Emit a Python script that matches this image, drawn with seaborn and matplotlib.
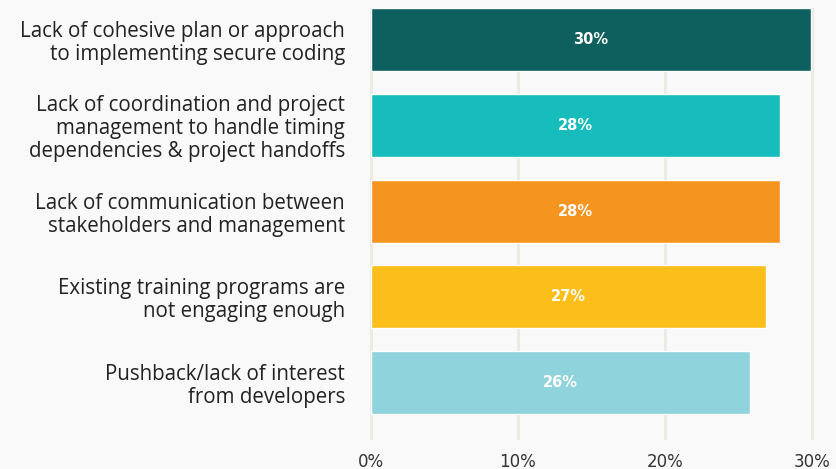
import pandas as pd
import numpy as np
import seaborn as sns
import matplotlib.pyplot as plt

categories = [
    "Lack of cohesive plan or approach\nto implementing secure coding",
    "Lack of coordination and project\nmanagement to handle timing\ndependencies & project handoffs",
    "Lack of communication between\nstakeholders and management",
    "Existing training programs are\nnot engaging enough",
    "Pushback/lack of interest\nfrom developers",
]
values = [29.9, 27.8, 27.8, 26.9, 25.8]
labels = ["30%", "28%", "28%", "27%", "26%"]
colors = ["#0e605f", "#17bdbc", "#f69420", "#fcbe1a", "#8fd4dc"]
xticks = [0, 10, 20, 30]

df = pd.DataFrame({"reason": categories, "share": values})

sns.set_theme(style="white")
plt.rcParams["font.family"] = ["Open Sans", "DejaVu Sans"]

fig = plt.figure(figsize=(8.37, 4.69), dpi=100, facecolor="#f9f9f9")
ax = fig.add_axes([370 / 837, 29 / 469, 445 / 837, 432 / 469])
ax.set_facecolor("#f9f9f9")

sns.barplot(data=df, x="share", y="reason", hue="reason", palette=colors,
            legend=False, width=0.735, saturation=1, ax=ax, zorder=3)

for x in xticks:
    ax.axvline(x, color="#ebebe3", lw=2.2, zorder=1)

for i, (v, lab) in enumerate(zip(values, labels)):
    ax.text(v / 2, i, lab, color="white", ha="center", va="center",
            fontsize=10.5, fontweight="bold", family="DejaVu Sans", zorder=4)

ax.set_xlim(-0.05, 30.2)
ax.set_ylim(4.67, -0.37)
ax.set_xticks(xticks)
ax.set_xticklabels([f"{t}%" for t in xticks], fontsize=12, color="#333333",
                   family="DejaVu Sans")
ax.tick_params(axis="x", length=0, pad=9)
ax.tick_params(axis="y", length=0, pad=18)
for t in ax.get_yticklabels():
    t.set_fontsize(14.8)
    t.set_color("#222222")
    t.set_ha("right")
    t.set_linespacing(1.12)
ax.set_xlabel("")
ax.set_ylabel("")
for s in ax.spines.values():
    s.set_visible(False)

fig.savefig("out.png", dpi=100, facecolor=fig.get_facecolor())
